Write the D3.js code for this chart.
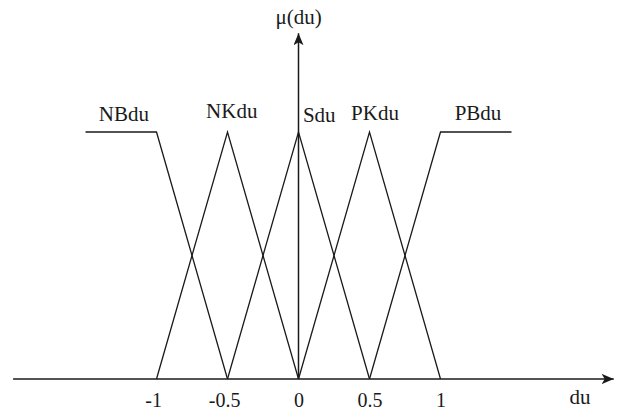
<!DOCTYPE html>
<html>
<head>
<meta charset="utf-8">
<script src="https://cdn.jsdelivr.net/npm/d3@7"></script>
<style>
  html, body { margin: 0; padding: 0; background: #fff; }
  svg { display: block; }
  text { font-family: "Liberation Serif", "Times New Roman", serif; fill: #1a1a1a; }
</style>
</head>
<body>
<svg id="chart" width="625" height="412"></svg>
<script>
// Fuzzy sets of the error change "du": [x, membership] vertices of each set
const setNames = ["NBdu", "NKdu", "Sdu", "PKdu", "PBdu"];
const NBdu = [[-1.5, 1], [-1, 1], [-0.5, 0]];
const NKdu = [[-1, 0], [-0.5, 1], [0, 0]];
const Sdu  = [[-0.5, 0], [0, 1], [0.5, 0]];
const PKdu = [[0, 0], [0.5, 1], [1, 0]];
const PBdu = [[0.5, 0], [1, 1], [1.5, 1]];
// where each set's name sits: [x, membership]
const labelAt = [[-1.23, 1.045], [-0.47, 1.057], [0.146, 1.04], [0.539, 1.049], [1.264, 1.049]];
const tickValues = [-1, -0.5, 0, 0.5, 1];
const tickLabels = ["-1", "-0.5", "0", "0.5", "1"];
const xDomainAxis = [-2.01, 2.22];
const yAxisTop = 1.4;

const sets = [NBdu, NKdu, Sdu, PKdu, PBdu];

const svg = d3.select("#chart");
const x = d3.scaleLinear().domain([-1, 1]).range([156.5, 440.5]);
const y = d3.scaleLinear().domain([0, 1]).range([379, 132]);

// arrowheads for the two axes
const defs = svg.append("defs");
defs.append("marker")
  .attr("id", "arrow")
  .attr("viewBox", "0 0 12 10")
  .attr("refX", 12).attr("refY", 5)
  .attr("markerWidth", 12).attr("markerHeight", 10)
  .attr("markerUnits", "userSpaceOnUse")
  .attr("orient", "auto")
  .append("path")
  .attr("d", "M0,0 L12,5 L0,10 L3,5 Z")
  .attr("fill", "#1a1a1a");

// horizontal axis line
svg.append("line")
  .attr("x1", x(xDomainAxis[0])).attr("x2", x(xDomainAxis[1]))
  .attr("y1", y(0)).attr("y2", y(0))
  .attr("stroke", "#1a1a1a").attr("stroke-width", 1.5)
  .attr("marker-end", "url(#arrow)");

// vertical axis line
svg.append("line")
  .attr("x1", x(0)).attr("x2", x(0))
  .attr("y1", y(0)).attr("y2", y(yAxisTop))
  .attr("stroke", "#1a1a1a").attr("stroke-width", 1.5)
  .attr("marker-end", "url(#arrow)");

// tick labels under the horizontal axis
const axis = d3.axisBottom(x)
  .tickValues(tickValues)
  .tickSize(0)
  .tickPadding(14)
  .tickFormat((d, i) => tickLabels[i]);
const gAxis = svg.append("g")
  .attr("transform", `translate(0,${y(0)})`)
  .call(axis);
gAxis.select(".domain").remove();
gAxis.selectAll("text")
  .attr("font-family", "Liberation Serif, serif")
  .attr("font-size", 20)
  .attr("fill", "#1a1a1a")
  .attr("dx", d => d < 0 ? "-0.17em" : 0);

// membership functions
const line = d3.line().x(d => x(d[0])).y(d => y(d[1]));
svg.append("g").selectAll("path")
  .data(sets)
  .join("path")
  .attr("d", line)
  .attr("fill", "none")
  .attr("stroke", "#1a1a1a")
  .attr("stroke-width", 1.3)
  .attr("stroke-linejoin", "miter");

// set names
svg.append("g").selectAll("text")
  .data(setNames)
  .join("text")
  .attr("x", (d, i) => x(labelAt[i][0]))
  .attr("y", (d, i) => y(labelAt[i][1]))
  .attr("text-anchor", "middle")
  .attr("font-size", 21)
  .text(d => d);

// axis titles
svg.append("text")
  .attr("x", x(0)).attr("y", 24)
  .attr("text-anchor", "middle")
  .attr("font-size", 21)
  .text("μ(du)");

svg.append("text")
  .attr("x", 580).attr("y", 404)
  .attr("text-anchor", "middle")
  .attr("font-size", 21)
  .text("du");
</script>
</body>
</html>
